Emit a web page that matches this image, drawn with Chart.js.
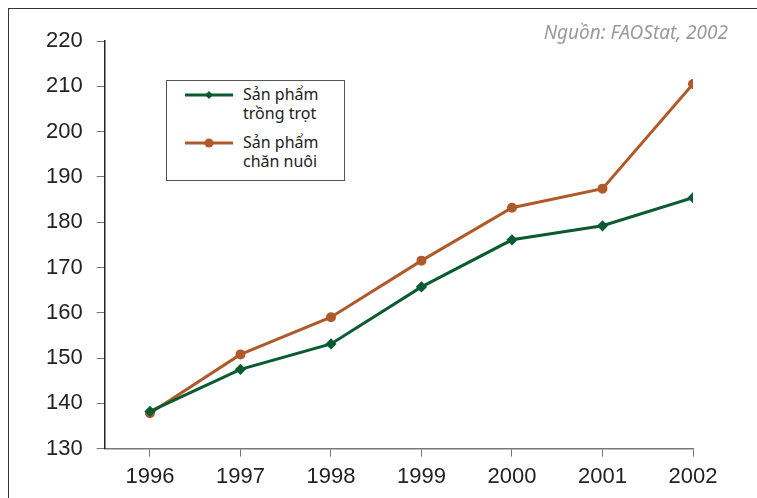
<!DOCTYPE html>
<html>
<head>
<meta charset="utf-8">
<script src="https://cdn.jsdelivr.net/npm/chart.js@4.4.1/dist/chart.umd.min.js"></script>
<style>
  html, body { margin: 0; padding: 0; background: #fff; }
  #wrap { position: relative; width: 757px; height: 498px; overflow: hidden; }
  #frame { position: absolute; left: 8px; top: 8px; width: 800px; height: 600px;
           border-left: 1px solid #333; border-top: 1px solid #333; }
  #chart { position: absolute; left: 0; top: 0; }
  #source { position: absolute; right: 29px; top: 19px; font-family: "Noto Sans", sans-serif;
            font-style: italic; font-size: 19px; color: #9a9a9a; }
  #legend { position: absolute; left: 166px; top: 80px; width: 177px; height: 99px;
            border: 1px solid #555; background: #fff; font-family: "Noto Sans", sans-serif;
            font-size: 16px; color: #222; line-height: 19px; }
  .item { position: absolute; left: 0; }
  .item svg { position: absolute; left: 18px; top: 2px; }
  .item span { position: absolute; left: 76px; white-space: nowrap; }
</style>
</head>
<body>
<div id="wrap">
  <div id="frame"></div>
  <canvas id="chart" width="757" height="498"></canvas>
  <div id="source">Nguồn: FAOStat, 2002</div>
  <div id="legend"></div>
</div>
<script>
// years on the x axis
const years = [1996, 1997, 1998, 1999, 2000, 2001, 2002];
// crop products index
const cropValues = [138.2, 147.5, 153.1, 165.7, 176.1, 179.2, 185.4];
// livestock products index
const livestockValues = [137.8, 150.8, 159.0, 171.5, 183.2, 187.4, 210.5];
const seriesNames = [["Sản phẩm", "trồng trọt"], ["Sản phẩm", "chăn nuôi"]];

const green = "#0a5a32";
const brown = "#b0592a";

function toPoints(values) {
    return values.map((v, i) => ({ x: years[i], y: v }));
}

function buildLegend(datasets) {
    const legend = document.getElementById("legend");
    legend.innerHTML = "";
    datasets.forEach((ds, i) => {
        const item = document.createElement("div");
        item.className = "item";
        item.style.top = (4 + i * 48) + "px";
        const marker = ds.pointStyle === "rectRot"
            ? `<polygon points="24,4 28,8 24,12 20,8" fill="${ds.borderColor}"/>`
            : `<circle cx="24" cy="8" r="4.5" fill="${ds.borderColor}"/>`;
        item.innerHTML = `
            <svg width="50" height="16"><line x1="0" y1="8" x2="48" y2="8" stroke="${ds.borderColor}" stroke-width="3"/>${marker}</svg>
            <span>${seriesNames[i][0]}<br>${seriesNames[i][1]}</span>
        `;
        legend.appendChild(item);
    });
}

const datasets = [
    {
        label: seriesNames[0].join(" "),
        data: toPoints(cropValues),
        borderColor: green,
        backgroundColor: green,
        borderWidth: 3,
        pointStyle: "rectRot",
        pointRadius: 3.5,
        tension: 0
    },
    {
        label: seriesNames[1].join(" "),
        data: toPoints(livestockValues),
        borderColor: brown,
        backgroundColor: brown,
        borderWidth: 3,
        pointStyle: "circle",
        pointRadius: 3.5,
        tension: 0
    }
];

const tickFont = { family: "'Liberation Sans', Arial, sans-serif", size: 22 };

new Chart(document.getElementById("chart").getContext("2d"), {
    type: "line",
    data: { datasets: datasets },
    options: {
        responsive: false,
        animation: false,
        layout: { padding: { left: 32, right: 64, top: 41, bottom: 1 } },
        plugins: { legend: { display: false }, tooltip: { enabled: false } },
        scales: {
            x: {
                type: "linear",
                min: 1995.5,
                max: 2002,
                afterBuildTicks: scale => { scale.ticks = years.map(v => ({ value: v })); },
                grid: { drawOnChartArea: false, drawTicks: true, tickLength: 8, color: "#777" },
                border: { display: true, color: "#777", width: 1.5 },
                ticks: { font: tickFont, color: "#222", padding: 7, callback: v => String(v) }
            },
            y: {
                min: 130,
                max: 220,
                ticks: { stepSize: 10, font: tickFont, color: "#222", padding: 14 },
                grid: { drawOnChartArea: false, drawTicks: true, tickLength: 8, color: "#777" },
                border: { display: true, color: "#222", width: 1.5 }
            }
        }
    }
});

buildLegend(datasets);
</script>
</body>
</html>
